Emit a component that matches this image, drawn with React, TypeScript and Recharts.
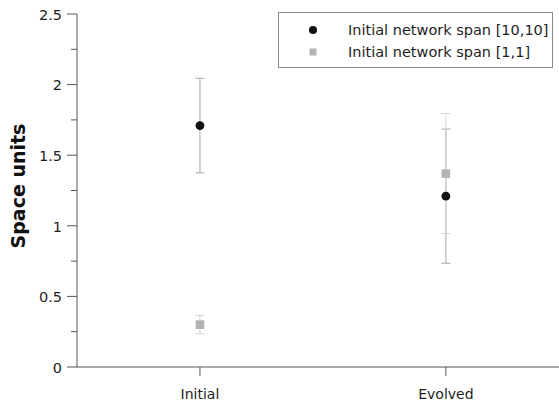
import { ScatterChart, Scatter, XAxis, YAxis, ErrorBar } from "recharts";

const categories = ["Initial", "Evolved"];
const categoryPositions = [1, 2];

const spanTenMeans = [1.71, 1.21];
const spanTenErrors = [0.335, 0.475];

const spanOneMeans = [0.3, 1.37];
const spanOneErrors = [0.065, 0.425];

const yTicks = [0, 0.25, 0.5, 0.75, 1, 1.25, 1.5, 1.75, 2, 2.25, 2.5];

const seriesNames = ["Initial network span [10,10]", "Initial network span [1,1]"];

const spanTenData = categoryPositions.map((x, i) => ({
  x,
  y: spanTenMeans[i],
  err: spanTenErrors[i],
}));

const spanOneData = categoryPositions.map((x, i) => ({
  x,
  y: spanOneMeans[i],
  err: spanOneErrors[i],
}));

const FONT = "'DejaVu Sans', Verdana, sans-serif";
const AXIS = "#555";
const TEXT = "#1e1e1e";

const YTick = ({ x, y, payload }: any) => {
  const v = payload.value as number;
  const major = Math.abs(v * 2 - Math.round(v * 2)) < 1e-6;
  return (
    <g>
      <line x1={x - (major ? 10 : 6)} x2={x} y1={y} y2={y} stroke={AXIS} strokeWidth={1} />
      {major && (
        <text
          x={x - 15}
          y={y}
          dy="0.4em"
          textAnchor="end"
          fontFamily={FONT}
          fontSize={14.5}
          fill={TEXT}
        >
          {v}
        </text>
      )}
    </g>
  );
};

const XTick = ({ x, payload }: any) => {
  const idx = categoryPositions.indexOf(payload.value);
  if (idx < 0) return null;
  return (
    <g>
      <line x1={x} x2={x} y1={367} y2={376} stroke={AXIS} strokeWidth={1} />
      <text
        x={x}
        y={394}
        dy="0.35em"
        textAnchor="middle"
        fontFamily={FONT}
        fontSize={14}
        fill={TEXT}
      >
        {categories[idx]}
      </text>
    </g>
  );
};

const CircleDot = ({ cx, cy }: any) => <circle cx={cx} cy={cy} r={4.4} fill="#111" />;
const SquareDot = ({ cx, cy }: any) => (
  <rect x={cx - 4.3} y={cy - 4.3} width={8.6} height={8.6} fill="#b3b3b3" />
);

// legend box drawn as plain html over the chart
const LegendBox = () => (
  <div
    style={{
      position: "absolute",
      left: 278,
      top: 12,
      width: 273,
      height: 54,
      border: "1px solid #8a8a8a",
      background: "#fff",
      fontFamily: FONT,
      fontSize: 14.5,
      color: TEXT,
    }}
  >
    {seriesNames.map((name, i) => (
      <div
        key={name}
        style={{ position: "relative", height: 22, lineHeight: "22px", marginTop: i === 0 ? 6 : 0 }}
      >
        <svg width={12} height={12} style={{ position: "absolute", left: 28, top: 5 }}>
          {i === 0 ? (
            <circle cx={6} cy={6} r={4} fill="#111" />
          ) : (
            <rect x={2.5} y={2.5} width={7} height={7} fill="#b3b3b3" />
          )}
        </svg>
        <span style={{ position: "absolute", left: 69, top: 0, whiteSpace: "nowrap" }}>{name}</span>
      </div>
    ))}
  </div>
);

// rotated y axis title
const YTitle = () => (
  <div
    style={{
      position: "absolute",
      left: 18,
      top: 186,
      transform: "translate(-50%, -50%) rotate(-90deg)",
      whiteSpace: "nowrap",
      fontFamily: FONT,
      fontWeight: "bold",
      fontSize: 19,
      color: "#111",
      lineHeight: "20px",
    }}
  >
    Space units
  </div>
);

const App = () => {
  return (
    <div style={{ position: "absolute", left: 0, top: 0, width: 559, height: 405, overflow: "hidden" }}>
      <ScatterChart width={559} height={405} margin={{ top: 14, right: 0, bottom: 0, left: 0 }}>
        <XAxis
          type="number"
          dataKey="x"
          domain={[0.5, 2.46]}
          allowDataOverflow
          ticks={categoryPositions}
          interval={0}
          height={38}
          tickSize={0}
          tickMargin={0}
          tickLine={false}
          stroke={AXIS}
          tick={<XTick />}
        />
        <YAxis
          type="number"
          dataKey="y"
          domain={[0, 2.5]}
          ticks={yTicks}
          interval={0}
          width={77}
          tickSize={0}
          tickMargin={0}
          tickLine={false}
          stroke={AXIS}
          tick={<YTick />}
        />
        <Scatter
          name={seriesNames[0]}
          data={spanTenData}
          shape={<CircleDot />}
          isAnimationActive={false}
        >
          <ErrorBar dataKey="err" direction="y" width={4.5} stroke="#a8a8a8" strokeWidth={1} />
        </Scatter>
        <Scatter
          name={seriesNames[1]}
          data={spanOneData}
          shape={<SquareDot />}
          isAnimationActive={false}
        >
          <ErrorBar dataKey="err" direction="y" width={4.5} stroke="#d4d4d4" strokeWidth={1} />
        </Scatter>
      </ScatterChart>
      <YTitle />
      <LegendBox />
    </div>
  );
};

export default App;
